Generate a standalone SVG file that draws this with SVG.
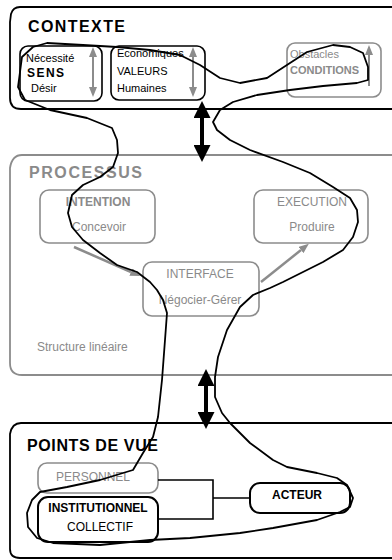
<svg xmlns="http://www.w3.org/2000/svg" width="392" height="560" viewBox="0 0 392 560">
<style>
text{font-family:"Liberation Sans",Arial,sans-serif;}
.frame{fill:none;stroke:#000;stroke-width:1.8;}
.gframe{fill:none;stroke:#8c8c8c;stroke-width:1.8;}
.bbox{fill:none;stroke:#000;stroke-width:1.6;}
.bbox2{fill:none;stroke:#000;stroke-width:2;}
.gbox{fill:none;stroke:#8c8c8c;stroke-width:1.6;}
.title{font-size:16px;font-weight:bold;fill:#000;}
.gtitle{font-size:16px;font-weight:bold;fill:#8a8a8a;}
.t11{font-size:11px;fill:#000;}
.t12sb{font-size:12px;font-weight:bold;fill:#000;}
.g11{font-size:11px;fill:#8a8a8a;}
.g11b{font-size:11px;font-weight:bold;fill:#8a8a8a;}
.g12{font-size:12px;fill:#8a8a8a;text-anchor:middle;}
.g12s{font-size:12px;fill:#8a8a8a;}
.g12b{font-size:12px;font-weight:bold;fill:#8a8a8a;text-anchor:middle;}
.t12{font-size:12px;fill:#000;text-anchor:middle;}
.t12b{font-size:12px;font-weight:bold;fill:#000;text-anchor:middle;}
.garrow{stroke:#8c8c8c;stroke-width:2;fill:none;}
.garrow2{stroke:#8c8c8c;stroke-width:2.5;fill:none;}
.barrow{stroke:#000;stroke-width:4;fill:none;}
.link{stroke:#000;stroke-width:1.6;fill:none;}
.loop{fill:none;stroke:#000;stroke-width:1.8;stroke-linejoin:round;stroke-linecap:round;}
</style>
<defs>
<marker id="gh" markerUnits="userSpaceOnUse" markerWidth="10" markerHeight="8" viewBox="0 0 10 8" refX="0" refY="4" orient="auto-start-reverse"><path d="M0,0 L10,4 L0,8 z" fill="#8c8c8c"/></marker>
<marker id="bh" markerUnits="userSpaceOnUse" markerWidth="17" markerHeight="17" viewBox="0 0 17 17" refX="0" refY="8.5" orient="auto-start-reverse"><path d="M0,0 L17,8.5 L0,17 z" fill="#000"/></marker>
</defs>
<g id="contexte">
<path class="frame" d="M400 7 H20 Q13 7 11 14 L10 22 V98 Q10 109 21 109 H400"/>
<text class="title" x="28" y="32" textLength="97" lengthAdjust="spacing">CONTEXTE</text>
</g>
<g id="sens">
<rect class="bbox" x="20" y="46" width="82" height="55" rx="8"/>
<text class="t11" x="26" y="62">Nécessité</text>
<text class="t12sb" x="27" y="77" textLength="37" lengthAdjust="spacing">SENS</text>
<text class="t11" x="31" y="92">Désir</text>
<line class="garrow" x1="93" y1="57" x2="93" y2="87" marker-start="url(#gh)" marker-end="url(#gh)"/>
</g>
<g id="valeurs">
<rect class="bbox" x="111" y="46" width="94" height="54" rx="8"/>
<text class="t11" x="117" y="57">Economiques</text>
<text class="t11" x="117" y="75">VALEURS</text>
<text class="t11" x="117" y="92">Humaines</text>
<line class="garrow" x1="193" y1="57" x2="193" y2="87" marker-start="url(#gh)" marker-end="url(#gh)"/>
</g>
<g id="conditions">
<rect class="gbox" x="287" y="43" width="94" height="54" rx="8"/>
<text class="g11" x="290" y="58">Obstacles</text>
<text class="g11b" x="290" y="74">CONDITIONS</text>
<line class="garrow" x1="369" y1="86" x2="369" y2="55" marker-end="url(#gh)"/>
</g>
<g id="processus">
<path class="gframe" d="M400 155 H22 Q12 155 10 168 V363 Q10 375 22 375 H400"/>
<text class="gtitle" x="29" y="178" textLength="113" lengthAdjust="spacing">PROCESSUS</text>
<text class="g12s" x="37" y="351">Structure linéaire</text>
</g>
<g id="intention">
<rect class="gbox" x="40" y="190" width="115" height="53" rx="9"/>
<text class="g12b" x="98" y="206">INTENTION</text>
<text class="g12" x="99" y="231">Concevoir</text>
</g>
<g id="execution">
<rect class="gbox" x="254" y="190" width="114" height="53" rx="9"/>
<text class="g12" x="312" y="206">EXECUTION</text>
<text class="g12" x="312" y="231">Produire</text>
</g>
<g id="interface">
<rect class="gbox" x="143" y="262" width="116" height="54" rx="9"/>
<text class="g12" x="200" y="278">INTERFACE</text>
<text class="g12" x="200" y="304">Négocier-Gérer</text>
</g>
<g id="points-de-vue">
<path class="frame" d="M400 423 H21 Q12 423 10 434 V549 Q10 558 20 558 H400"/>
<text class="title" x="27" y="451" textLength="131" lengthAdjust="spacing">POINTS DE VUE</text>
</g>
<g id="personnel">
<rect class="gbox" x="38" y="463" width="120" height="30" rx="9"/>
<text class="g12" x="93" y="481">PERSONNEL</text>
</g>
<g id="institutionnel">
<rect class="bbox2" x="38" y="497" width="120" height="45" rx="10"/>
<text class="t12b" x="98" y="512">INSTITUTIONNEL</text>
<text class="t12" x="100" y="531">COLLECTIF</text>
</g>
<g id="acteur">
<rect class="bbox2" x="250" y="483" width="100" height="30" rx="10"/>
<text class="t12b" x="297" y="499">ACTEUR</text>
</g>
<g id="connectors">
<line class="barrow" x1="202" y1="118" x2="202" y2="145" marker-start="url(#bh)" marker-end="url(#bh)"/>
<line class="barrow" x1="206" y1="386" x2="206" y2="412" marker-start="url(#bh)" marker-end="url(#bh)"/>
<line class="garrow2" x1="74" y1="247" x2="131" y2="272" marker-end="url(#gh)"/>
<line class="garrow2" x1="261" y1="282" x2="301" y2="250" marker-end="url(#gh)"/>
<path class="link" d="M158 480 H213 V519 H158 M213 498 H250"/>
<path class="loop" d="M117 140 L112 128 L87 118 L50 110 L25 100 L18 87 L22 57 L33 47 L47 43 L83 45 L117 47 L150 50 L180 55 L200 65 L220 78 L240 83 L267 78 L290 63 L307 52 L333 45 L350 47 L363 53 L368 67 L368 80 L357 83 L323 86 L290 90 L257 95 L233 102 L220 110 L213 122 L217 130 L230 140 L250 150 L283 162 L310 173 L333 187 L350 198 L357 210 L358 222 L353 237 L343 250 L323 262 L303 272 L283 282 L270 288 L253 295 L240 307 L227 330 L218 357 L215 377 L215 397 L222 413 L230 423 L250 443 L273 460 L287 467 L317 473 L337 478 L347 485 L353 498 L350 507 L340 512 L317 520 L273 528 L240 533 L190 538 L150 540 L100 545 L53 543 L37 538 L28 527 L27 513 L32 500 L40 492 L67 487 L100 480 L123 473 L133 470 L143 453 L153 437 L158 417 L162 380 L165 340 L167 313 L163 300 L157 290 L150 282 L137 272 L117 265 L100 253 L83 240 L72 227 L68 213 L72 195 L83 185 L100 177 L113 167 L118 153 Z"/>
</g>
</svg>
